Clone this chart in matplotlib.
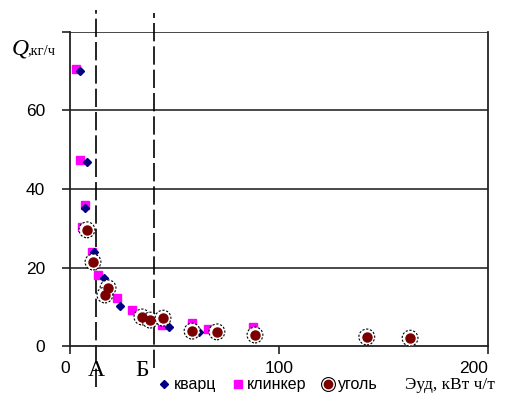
import matplotlib
matplotlib.use('Agg')
import matplotlib.pyplot as plt
from matplotlib.lines import Line2D
from matplotlib.legend_handler import HandlerTuple

# data
quartz_x = [4.8, 8.0, 7.2, 11.5, 16.3, 24.0, 47.4, 61.8]
quartz_y = [70.0, 47.0, 35.2, 24.0, 17.3, 10.2, 4.9, 3.6]

clinker_x = [2.9, 4.8, 7.2, 5.6, 10.5, 13.6, 22.5, 29.7, 44.0, 58.4, 66.0, 87.6]
clinker_y = [70.6, 47.4, 35.9, 30.3, 24.0, 18.0, 12.2, 9.2, 5.3, 5.9, 4.3, 4.9]

coal_x = [8.1, 11.0, 18.2, 16.7, 34.4, 38.3, 44.5, 58.4, 70.3, 88.5, 142.0, 162.7]
coal_y = [29.6, 21.4, 14.8, 13.0, 7.4, 6.6, 7.1, 3.8, 3.6, 2.8, 2.3, 2.0]

zone_x = [12.5, 40.0]
zone_names = ['А', 'Б']

x_ticks = [0, 100, 200]
y_ticks = [0, 20, 40, 60, 80]
y_tick_labels = ['0', '20', '40', '60', '']

narrow = ['Liberation Sans Narrow', 'DejaVu Sans Condensed', 'Liberation Sans']
serif = ['Liberation Serif', 'DejaVu Serif']

fig = plt.figure(figsize=(5.17, 4.17), dpi=100)
ax = fig.add_axes([70 / 517, 1 - 346 / 417, 418 / 517, 314 / 417])

ax.set_xlim(0, 200)
ax.set_ylim(0, 80)

# horizontal grid
for yv in y_ticks[1:]:
    ax.axhline(yv, color='#3a3a3a', lw=1.3, zorder=1)

ax.spines['top'].set_visible(False)
for s in ['left', 'right', 'bottom']:
    ax.spines[s].set_color('#222222')
    ax.spines[s].set_linewidth(1.3)

# zone boundaries
ax.axvline(zone_x[0], ymin=-0.13, ymax=1.07, color='black', lw=1.2,
           dashes=(11, 3), clip_on=False, zorder=2)
ax.axvline(zone_x[1], ymin=-0.07, ymax=1.06, color='black', lw=1.2,
           dashes=(11, 3), clip_on=False, zorder=2)

# points
ax.plot(clinker_x, clinker_y, 's', color='#ff00ff', ms=5.5, mec='#ff00ff',
        zorder=3, clip_on=False)
ax.plot(quartz_x, quartz_y, 'D', color='#000080', ms=4.5, zorder=4, clip_on=False)
ax.scatter(coal_x, coal_y, s=130, facecolors='white', edgecolors='black',
           linewidths=0.8, linestyles=(0, (2, 1.5)), zorder=5)
ax.plot(coal_x, coal_y, 'o', color='#7a0000', ms=6.5, zorder=6)

ax.set_xticks(x_ticks)
ax.set_xticklabels([str(v) for v in x_ticks])
ax.set_yticks(y_ticks)
ax.set_yticklabels(y_tick_labels)
ax.tick_params(axis='both', direction='out', length=6, width=1.2,
               color='#222222', labelsize=12.5)
ax.tick_params(axis='x', pad=5)
ax.tick_params(axis='y', pad=12)
for lab in ax.get_xticklabels() + ax.get_yticklabels():
    lab.set_family(narrow)
ax.get_xticklabels()[-1].set_horizontalalignment('right')
ax.get_xticklabels()[0].set_horizontalalignment('right')

# zone letters
for xv, name, dx in zip(zone_x, zone_names, [0, -5.5]):
    ax.annotate(name, xy=(xv + dx, 0), xycoords='data', xytext=(0, -18),
                textcoords='offset points', ha='center', va='center',
                fontsize=17, family=serif)

# axis titles
fig.text(12 / 517, 1 - 54 / 417, 'Q', fontsize=17, style='italic',
         family=serif, va='baseline')
fig.text(27 / 517, 1 - 54 / 417, ',кг/ч', fontsize=10.5, family=serif,
         va='baseline')
fig.text(405 / 517, 1 - 389 / 417, 'Эуд, кВт ч/т', fontsize=12.5,
         family=serif, va='baseline')

# legend
h_q = Line2D([], [], marker='D', ls='none', color='#000080', ms=4)
h_c = Line2D([], [], marker='s', ls='none', color='#ff00ff', ms=5.5)
h_ring = Line2D([], [], marker='o', ls='none', mfc='white', mec='black',
                ms=10, mew=0.8)
h_dot = Line2D([], [], marker='o', ls='none', color='#7a0000', ms=6)
fig.legend([h_q, h_c, (h_ring, h_dot)], ['кварц', 'клинкер', 'уголь'],
           handler_map={tuple: HandlerTuple(ndivide=1)},
           loc='center', bbox_to_anchor=(268 / 517, 1 - 385 / 417), ncol=3,
           frameon=False, handlelength=0.7, handletextpad=0.25,
           columnspacing=1.0, borderpad=0.1,
           prop={'family': narrow, 'size': 11.5})

fig.savefig('out.png', dpi=100, facecolor='white')
